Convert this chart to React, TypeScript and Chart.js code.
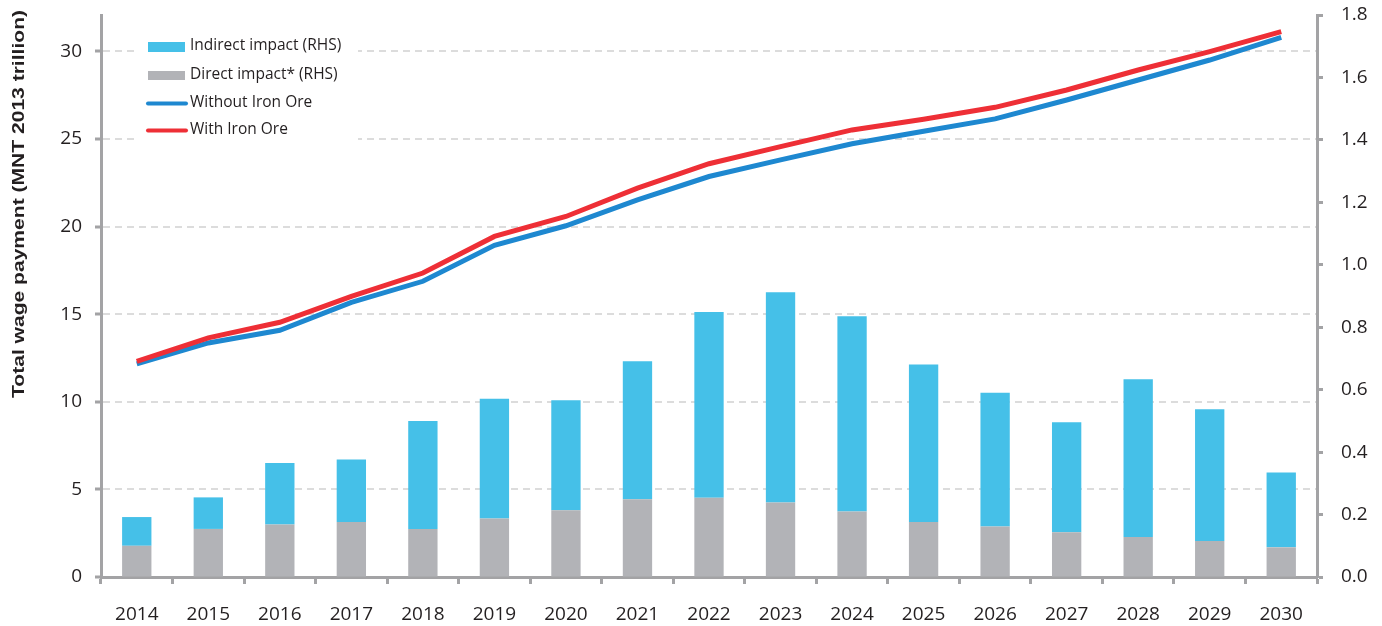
import { useEffect, useRef } from 'react';
import { Chart, registerables } from 'chart.js';

Chart.register(...registerables);

const years = ['2014', '2015', '2016', '2017', '2018', '2019', '2020', '2021', '2022', '2023', '2024', '2025', '2026', '2027', '2028', '2029', '2030'];
const directImpact = [0.100, 0.154, 0.168, 0.176, 0.154, 0.187, 0.214, 0.249, 0.254, 0.239, 0.210, 0.176, 0.162, 0.143, 0.128, 0.115, 0.095];
const indirectImpact = [0.092, 0.101, 0.197, 0.200, 0.346, 0.384, 0.352, 0.442, 0.595, 0.673, 0.625, 0.505, 0.428, 0.353, 0.505, 0.422, 0.240];
const withoutIronOre = [12.16, 13.36, 14.08, 15.68, 16.88, 18.93, 20.05, 21.53, 22.86, 23.81, 24.73, 25.44, 26.15, 27.23, 28.37, 29.51, 30.80];
const withIronOre = [12.31, 13.65, 14.54, 16.02, 17.35, 19.44, 20.58, 22.20, 23.59, 24.57, 25.52, 26.13, 26.81, 27.80, 28.94, 29.99, 31.13];
const leftTicks = [0, 5, 10, 15, 20, 25, 30];
const rightTicks = [0, 0.2, 0.4, 0.6, 0.8, 1.0, 1.2, 1.4, 1.6, 1.8];
const leftMax = 32.08;
const rightMax = 1.8;
const yTitle = 'Total wage payment (MNT 2013 trillion)';
const legendLabels = ['Indirect impact (RHS)', 'Direct impact* (RHS)', 'Without Iron Ore', 'With Iron Ore'];

const C_INDIRECT = '#45c0e8';
const C_DIRECT = '#b2b3b7';
const C_WITHOUT = '#1e88d0';
const C_WITH = '#ee2f36';
const C_AXIS = '#a3a3a5';
const C_TEXT = '#231f20';
const C_GRID = '#dcdcdc';
const FONT = "'Open Sans', 'Noto Sans', sans-serif";

const overlayPlugin = {
  id: 'overlay',
  beforeDatasetsDraw(chart: any) {
    const ctx: CanvasRenderingContext2D = chart.ctx;
    ctx.save();
    ctx.fillStyle = '#ffffff';
    ctx.fillRect(136, 30, 222, 114);
    const rows = [46, 75, 103, 130];
    ctx.fillStyle = C_INDIRECT;
    ctx.fillRect(148, 42, 37, 10);
    ctx.fillStyle = C_DIRECT;
    ctx.fillRect(148, 71, 37, 9);
    ctx.lineCap = 'round';
    ctx.lineWidth = 4;
    ctx.strokeStyle = C_WITHOUT;
    ctx.beginPath();
    ctx.moveTo(148, 103.5);
    ctx.lineTo(186, 103.5);
    ctx.stroke();
    ctx.strokeStyle = C_WITH;
    ctx.beginPath();
    ctx.moveTo(148, 130.5);
    ctx.lineTo(186, 130.5);
    ctx.stroke();
    ctx.fillStyle = C_TEXT;
    ctx.font = `15.5px ${FONT}`;
    ctx.textBaseline = 'middle';
    ctx.textAlign = 'left';
    legendLabels.forEach((t, i) => ctx.fillText(t, 190, rows[i]));
    ctx.restore();
  },
  afterDraw(chart: any) {
    const ctx: CanvasRenderingContext2D = chart.ctx;
    ctx.save();
    ctx.font = `bold 17px 'Liberation Sans', Arial, sans-serif`;
    ctx.fillStyle = C_TEXT;
    ctx.textAlign = 'center';
    ctx.textBaseline = 'middle';
    const w = ctx.measureText(yTitle).width;
    ctx.translate(19, 204);
    ctx.rotate(-Math.PI / 2);
    ctx.scale(388 / w, 1);
    ctx.fillText(yTitle, 0, 0);
    ctx.restore();
  },
};

export default function App() {
  const ref = useRef<HTMLCanvasElement | null>(null);

  useEffect(() => {
    document.body.style.margin = '0';
    const canvas = ref.current;
    if (!canvas) return;
    Chart.defaults.font.family = FONT;
    const chart = new Chart(canvas, {
      data: {
        labels: years,
        datasets: [
          {
            type: 'line',
            label: legendLabels[3],
            data: withIronOre,
            yAxisID: 'y',
            borderColor: C_WITH,
            backgroundColor: C_WITH,
            borderWidth: 5,
            pointRadius: 0,
            tension: 0,
            order: 0,
          },
          {
            type: 'line',
            label: legendLabels[2],
            data: withoutIronOre,
            yAxisID: 'y',
            borderColor: C_WITHOUT,
            backgroundColor: C_WITHOUT,
            borderWidth: 5,
            pointRadius: 0,
            tension: 0,
            order: 1,
          },
          {
            type: 'bar',
            label: legendLabels[1],
            data: directImpact,
            yAxisID: 'y1',
            backgroundColor: C_DIRECT,
            categoryPercentage: 1,
            barPercentage: 0.41,
            order: 2,
          },
          {
            type: 'bar',
            label: legendLabels[0],
            data: indirectImpact,
            yAxisID: 'y1',
            backgroundColor: C_INDIRECT,
            categoryPercentage: 1,
            barPercentage: 0.41,
            order: 3,
          },
        ],
      } as any,
      options: {
        animation: false,
        responsive: false,
        events: [],
        layout: { padding: { top: 15, left: 0, right: 0, bottom: 0 } },
        plugins: {
          legend: { display: false },
          tooltip: { enabled: false },
        },
        scales: {
          x: {
            stacked: true,
            offset: true,
            afterFit: (s: any) => { s.height = 49; s.paddingLeft = 0; s.paddingRight = 0; },
            grid: {
              offset: true,
              drawOnChartArea: false,
              drawTicks: true,
              tickLength: 7,
              tickColor: C_AXIS,
              tickWidth: 3,
            },
            border: { display: true, color: C_AXIS, width: 3 },
            ticks: {
              color: C_TEXT,
              font: { size: 19, family: FONT },
              padding: 19,
              maxRotation: 0,
              autoSkip: false,
            },
          },
          y: {
            position: 'left',
            min: 0,
            max: leftMax,
            afterFit: (s: any) => { s.width = 101; s.paddingTop = 0; s.paddingBottom = 0; },
            afterBuildTicks: (s: any) => { s.ticks = leftTicks.map((v) => ({ value: v })); },
            grid: {
              color: (c: any) => (c.tick && c.tick.value === 0 ? 'rgba(0,0,0,0)' : C_GRID),
              lineWidth: 2,
              drawTicks: true,
              tickLength: 6,
              tickColor: C_AXIS,
              tickWidth: 3,
              tickBorderDash: [],
            },
            border: { display: true, color: C_AXIS, width: 3, dash: [7, 5] },
            ticks: {
              color: C_TEXT,
              font: { size: 19, family: FONT },
              padding: 13,
            },
          },
          y1: {
            position: 'right',
            stacked: true,
            min: 0,
            max: rightMax,
            afterFit: (s: any) => { s.width = 65; s.paddingTop = 0; s.paddingBottom = 0; },
            afterBuildTicks: (s: any) => { s.ticks = rightTicks.map((v) => ({ value: v })); },
            grid: {
              drawOnChartArea: false,
              drawTicks: true,
              tickLength: 6,
              tickColor: C_AXIS,
              tickWidth: 3,
            },
            border: { display: true, color: C_AXIS, width: 3 },
            ticks: {
              color: C_TEXT,
              font: { size: 19, family: FONT },
              padding: 18,
              callback: (v: any) => Number(v).toFixed(1),
            },
          },
        },
      } as any,
      plugins: [overlayPlugin],
    });
    return () => chart.destroy();
  }, []);

  return (
    <div style={{ position: 'absolute', left: 0, top: 0, width: 1382, height: 626, background: '#fff' }}>
      <canvas ref={ref} width={1382} height={626} />
    </div>
  );
}
